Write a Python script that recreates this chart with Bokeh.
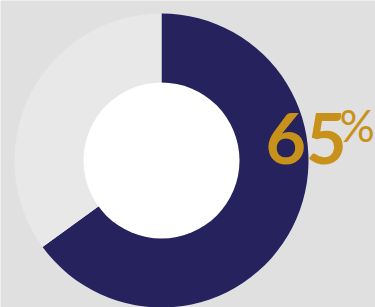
from bokeh.plotting import figure
from bokeh.models import ColumnDataSource, Range1d
from bokeh.core.properties import value
from bokeh.embed import file_html
from bokeh.resources import INLINE
import math

# data
labels = ["Yes", "Rest"]
values = [65, 35]
colors = ["#25225e", "#e8e8e8"]
pct_label = "65"
pct_sign = "%"

W, H = 375, 307
p = figure(width=W, height=H, output_backend="svg", toolbar_location=None,
           x_range=Range1d(0, W), y_range=Range1d(0, H), min_border=0)
p.axis.visible = False
p.grid.visible = False
p.outline_line_color = None
p.background_fill_color = "#e0e0e0"
p.border_fill_color = "#e0e0e0"

total = sum(values)
starts, ends = [], []
a = math.pi / 2
for v in values:
    span = 2 * math.pi * v / total
    starts.append(a - span)
    ends.append(a)
    a -= span

cx, cy = 161, 147
src = ColumnDataSource(dict(x=[cx] * len(values), y=[cy] * len(values),
                            start=starts, end=ends, color=colors, label=labels))
p.annular_wedge(x="x", y="y", inner_radius=70, outer_radius=147,
                start_angle="start", end_angle="end", fill_color="color",
                line_color=None, source=src)
p.circle(x=[cx], y=[cy], radius=78, fill_color="white", line_color=None)

p.text(x=[265], y=[169], text=[pct_label], text_font=value("Lato"),
       text_font_size="70px", text_font_style="bold", text_color="#c8911a",
       text_baseline="alphabetic", text_align="left")
p.text(x=[339], y=[183], text=[pct_sign], text_font=value("Lato"),
       text_font_size="44px", text_font_style="normal", text_color="#c8911a",
       text_baseline="alphabetic", text_align="left")

html = file_html(p, INLINE)
html = html.replace("<body>", '<body style="margin:0;background:#e0e0e0;">', 1)
open("out.html", "w").write(html)
